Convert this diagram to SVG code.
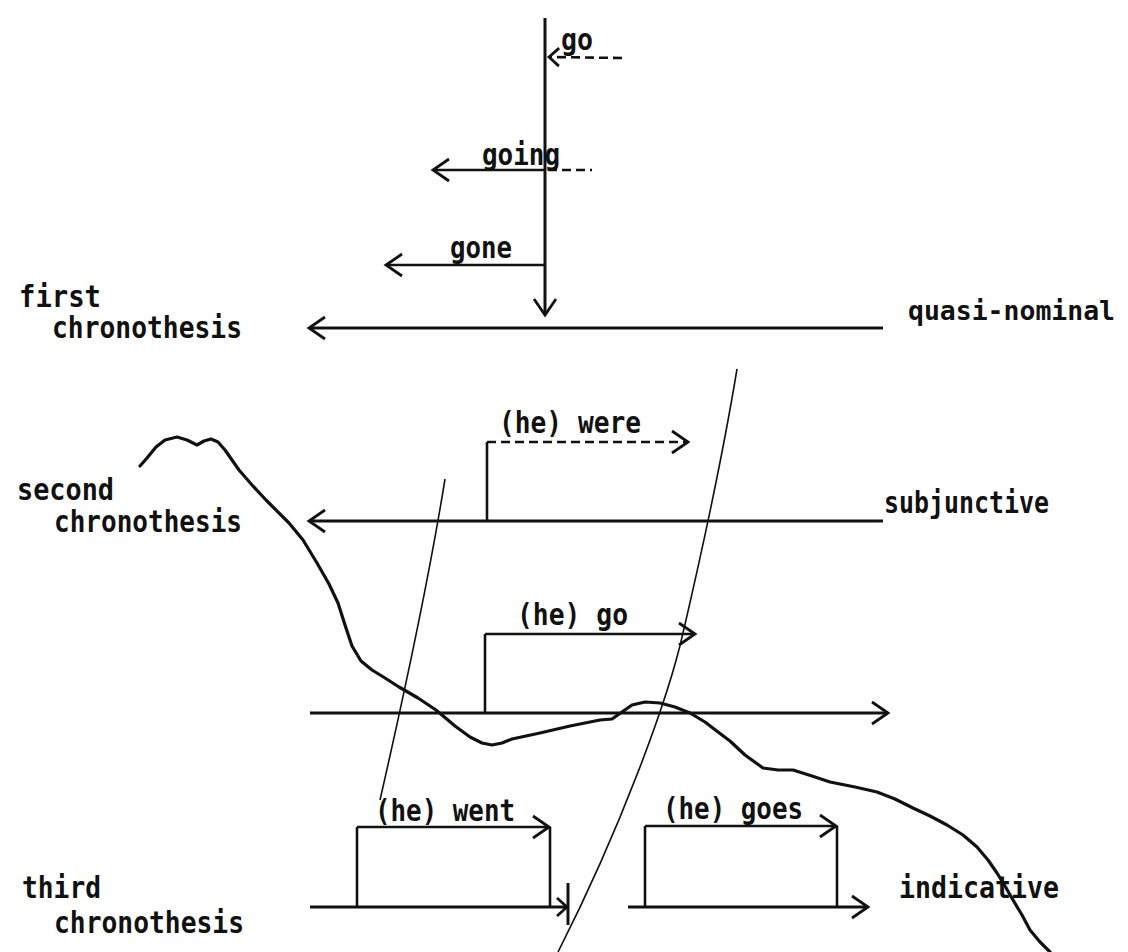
<svg xmlns="http://www.w3.org/2000/svg" width="1128" height="952" viewBox="0 0 1128 952">
<style>
  text { font-family: "DejaVu Sans Mono", "Liberation Mono", monospace; font-size: 30px; font-weight: bold; fill: #111; }
  text.sm { font-size: 27px; }
  .ax { stroke: #111; stroke-width: 3; fill: none; }
  .ln { stroke: #111; stroke-width: 2.6; fill: none; }
  .dash { stroke: #111; stroke-width: 2.6; fill: none; stroke-dasharray: 9 5; }
  .thin { stroke: #111; stroke-width: 1.6; fill: none; }
  .wave { stroke: #111; stroke-width: 3.2; fill: none; stroke-linejoin: round; stroke-linecap: round; }
</style>
<defs>
  <marker id="arr" viewBox="-20 -14 24 28" refX="0" refY="0" markerWidth="24" markerHeight="28" markerUnits="userSpaceOnUse" orient="auto">
    <path d="M-16,-11 L0,0 L-16,11" fill="none" stroke="#111" stroke-width="2.8"/>
  </marker>
  <marker id="arrs" viewBox="-14 -12 18 24" refX="0" refY="0" markerWidth="18" markerHeight="24" markerUnits="userSpaceOnUse" orient="auto">
    <path d="M-10,-9 L0,0 L-10,9" fill="none" stroke="#111" stroke-width="2.8"/>
  </marker>
</defs>
<rect width="1128" height="952" fill="#fff"/>

<g id="connectors">
  <!-- first chronothesis -->
  <line class="ax" x1="545" y1="18" x2="545" y2="315" marker-end="url(#arr)"/>
  <line class="dash" x1="622" y1="58" x2="549" y2="57" marker-end="url(#arrs)"/>
  <line class="ln" x1="545" y1="170" x2="433" y2="170" marker-end="url(#arr)"/>
  <line class="dash" x1="548" y1="170" x2="592" y2="170"/>
  <line class="ln" x1="545" y1="265" x2="386" y2="265" marker-end="url(#arr)"/>
  <line class="ax" x1="883" y1="328" x2="309" y2="328" marker-end="url(#arr)"/>
  <!-- second chronothesis -->
  <line class="ln" x1="487" y1="521" x2="487" y2="442"/>
  <line class="dash" x1="487" y1="442" x2="688" y2="442" marker-end="url(#arr)"/>
  <line class="ax" x1="883" y1="521" x2="309" y2="521" marker-end="url(#arr)"/>
  <!-- (he) go -->
  <line class="ln" x1="485" y1="713" x2="485" y2="634"/>
  <line class="ln" x1="485" y1="634" x2="695" y2="634" marker-end="url(#arr)"/>
  <line class="ax" x1="310" y1="713" x2="888" y2="713" marker-end="url(#arr)"/>
  <!-- (he) went -->
  <line class="ln" x1="357" y1="907" x2="357" y2="827"/>
  <line class="ln" x1="357" y1="827" x2="549" y2="827" marker-end="url(#arr)"/>
  <line class="ln" x1="550" y1="827" x2="550" y2="907"/>
  <line class="ax" x1="310" y1="907" x2="567" y2="907" marker-end="url(#arrs)"/>
  <line class="ax" x1="568" y1="883" x2="568" y2="925"/>
  <!-- (he) goes -->
  <line class="ln" x1="645" y1="907" x2="645" y2="826"/>
  <line class="ln" x1="645" y1="826" x2="836" y2="826" marker-end="url(#arr)"/>
  <line class="ln" x1="837" y1="826" x2="837" y2="906"/>
  <line class="ax" x1="628" y1="907" x2="868" y2="907" marker-end="url(#arr)"/>
  <!-- thin boundary curves -->
  <path class="thin" d="M445,479 C432,560 412,660 380,800"/>
  <path class="thin" d="M737,369 C722,460 700,560 683,633 C668,700 620,830 558,952"/>
  <!-- thick freehand curve -->
  <polyline class="wave" points="140,466 147,458 156,447 165,440 177,437 187,440 197,445 204,441 211,439 218,442 225,450 239,470 252,485 266,500 289,523 303,540 317,563 329,584 338,603 345,625 352,646 361,661 372,670 385,678 399,687 418,698 436,710 455,726 470,737 482,743 492,745 502,743 512,739 540,733 570,726 600,720 612,719 622,712 632,705 645,702 660,703 675,707 690,713 705,722 718,732 730,741 745,755 763,768 778,770 793,770 812,776 830,782 855,787 877,792 895,799 913,808 930,816 947,825 963,835 977,847 988,860 997,873 1005,886 1013,900 1022,915 1030,930 1040,942 1050,952"/>
</g>

<g id="label-go"><text x="561" y="50" textLength="32" lengthAdjust="spacingAndGlyphs">go</text></g>
<g id="label-going"><text x="482" y="165" textLength="78" lengthAdjust="spacingAndGlyphs">going</text></g>
<g id="label-gone"><text x="450" y="258" textLength="62" lengthAdjust="spacingAndGlyphs">gone</text></g>
<g id="label-first"><text x="19" y="307" textLength="82" lengthAdjust="spacingAndGlyphs">first</text><text x="52" y="338" textLength="190" lengthAdjust="spacingAndGlyphs">chronothesis</text></g>
<g id="label-quasi"><text class="sm" x="908" y="320" textLength="207" lengthAdjust="spacingAndGlyphs">quasi-nominal</text></g>
<g id="label-were"><text x="499" y="433" textLength="142" lengthAdjust="spacingAndGlyphs">(he) were</text></g>
<g id="label-second"><text x="17" y="500" textLength="97" lengthAdjust="spacingAndGlyphs">second</text><text x="54" y="532" textLength="188" lengthAdjust="spacingAndGlyphs">chronothesis</text></g>
<g id="label-subjunctive"><text x="884" y="513" textLength="165" lengthAdjust="spacingAndGlyphs">subjunctive</text></g>
<g id="label-hego"><text x="517" y="625" textLength="111" lengthAdjust="spacingAndGlyphs">(he) go</text></g>
<g id="label-went"><text x="375" y="821" textLength="140" lengthAdjust="spacingAndGlyphs">(he) went</text></g>
<g id="label-goes"><text x="663" y="819" textLength="140" lengthAdjust="spacingAndGlyphs">(he) goes</text></g>
<g id="label-third"><text x="22" y="898" textLength="79" lengthAdjust="spacingAndGlyphs">third</text><text x="54" y="933" textLength="190" lengthAdjust="spacingAndGlyphs">chronothesis</text></g>
<g id="label-indicative"><text x="899" y="898" textLength="160" lengthAdjust="spacingAndGlyphs">indicative</text></g>
</svg>
